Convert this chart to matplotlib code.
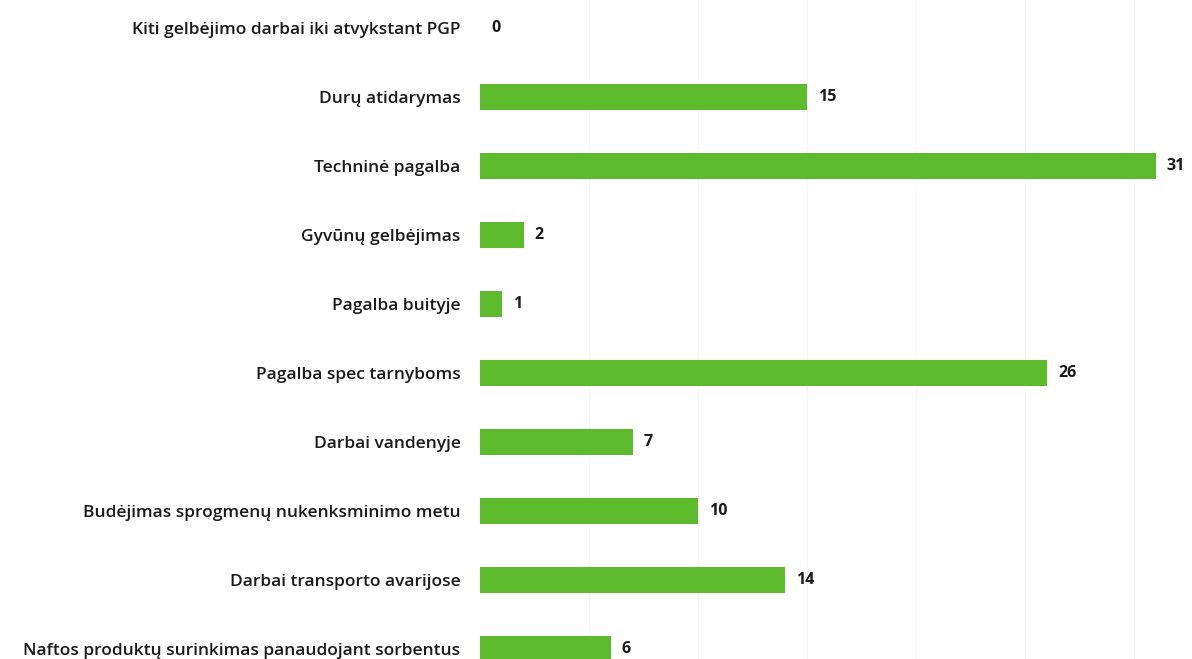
import matplotlib
matplotlib.use("Agg")
import matplotlib.pyplot as plt

categories = [
    "Kiti gelbėjimo darbai iki atvykstant PGP",
    "Durų atidarymas",
    "Techninė pagalba",
    "Gyvūnų gelbėjimas",
    "Pagalba buityje",
    "Pagalba spec tarnyboms",
    "Darbai vandenyje",
    "Budėjimas sprogmenų nukenksminimo metu",
    "Darbai transporto avarijose",
    "Naftos produktų surinkimas panaudojant sorbentus",
]
values = [0, 15, 31, 2, 1, 26, 7, 10, 14, 6]

plt.rcParams['font.family'] = ['Open Sans', 'DejaVu Sans']

fig = plt.figure(figsize=(11.92, 6.59), dpi=100)
ax = fig.add_axes([480/1192, 0, 1 - 480/1192, 1])

ypos = list(range(len(categories)))
ax.barh(ypos, values, height=0.38, color='#5cba2c', zorder=2)
for y, v in zip(ypos, values):
    ax.annotate(str(v), (v, y), xytext=(8, 0), textcoords='offset points',
                va='center', ha='left', fontsize=11.5, fontweight='bold', color='#1a1a1a')

ax.set_yticks(ypos)
ax.set_yticklabels(categories, fontsize=12.5, fontweight='semibold', color='#1a1a1a')
ax.tick_params(axis='y', length=0, pad=14)
ax.set_xticks([5, 10, 15, 20, 25, 30])
ax.tick_params(axis='x', length=0, labelbottom=False)
ax.grid(axis='x', color='#f5f5f5', linewidth=0.8, zorder=0)
ax.set_xlim(0, 712/21.8)
ax.set_ylim((659 - 28)/69, -28/69)
for s in ax.spines.values():
    s.set_visible(False)

fig.savefig("out.png", dpi=100)
